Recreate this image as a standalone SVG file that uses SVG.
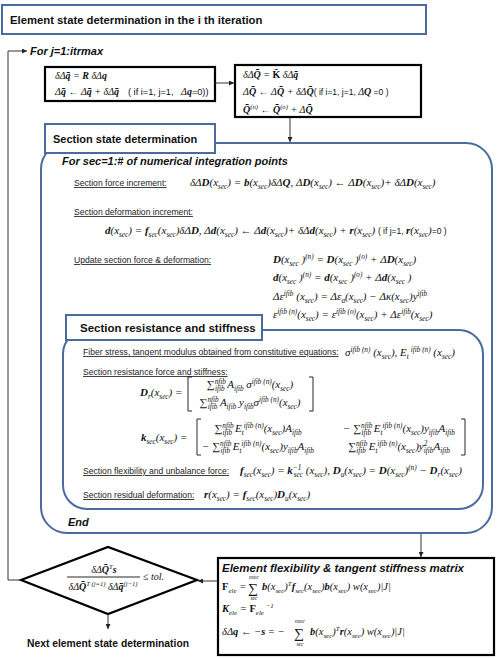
<svg xmlns="http://www.w3.org/2000/svg" width="500" height="659" viewBox="0 0 500 659" xml:space="preserve">
<defs>
<marker id="ah" viewBox="0 0 8 8" refX="8" refY="4" markerWidth="5" markerHeight="5" orient="auto" markerUnits="userSpaceOnUse"><path d="M0,0 L8,4 L0,8 z" fill="#222"/></marker>
<style>
.bl{fill:#fff;stroke:#4a6b9b;stroke-width:2}
.bk{fill:#fff;stroke:#000;stroke-width:2.2}
.cn{fill:none;stroke:#333;stroke-width:1}
.br{fill:none;stroke:#111;stroke-width:0.9}
.h{font-family:"Liberation Sans",Arial,sans-serif;font-weight:bold;font-size:11px;fill:#111}
.hi{font-family:"Liberation Sans",Arial,sans-serif;font-weight:bold;font-style:italic;font-size:11px;fill:#111}
.l{font-family:"Liberation Sans",Arial,sans-serif;font-size:8.6px;text-decoration:underline;fill:#222}
.f{font-family:"Liberation Serif","Times New Roman",serif;font-style:italic;font-size:10px;fill:#111}
.g{font-size:11px}
.e{font-size:10.5px}
.B{font-weight:bold}
.U{font-style:normal}
.r{font-family:"Liberation Sans",Arial,sans-serif;font-style:normal;font-weight:normal;font-size:8.5px}
.s{font-size:0.66em;baseline-shift:-2.5px}
.p{font-size:0.66em;baseline-shift:4.5px}
.sl{font-size:0.66em;baseline-shift:-3.3px}
.sg{font-family:"Liberation Serif","DejaVu Serif",serif;font-style:normal;font-size:14px;fill:#111}
.lm{font-family:"Liberation Serif",serif;font-style:italic;font-size:5.5px;fill:#111}
</style>
</defs>

<g id="title">
<rect class="bl" x="2" y="5" width="424" height="29"/>
<text class="h" style="font-size:11.3px" x="10" y="24">Element state determination in the i th iteration</text>
</g>

<g id="loop-label">
<text class="hi" x="30" y="55">For j=1:itrmax</text>
</g>

<g id="box-displacement">
<rect class="bk" x="45" y="67" width="170" height="34"/>
<text class="f" x="55" y="79">δΔ<tspan class="B">q̄</tspan> = <tspan class="B">R</tspan> δΔ<tspan class="B">q</tspan></text>
<text class="f" x="55" y="95">Δ<tspan class="B">q̄</tspan> ← Δ<tspan class="B">q̄</tspan> + δΔ<tspan class="B">q̄</tspan><tspan class="r" style="font-size:9.2px" x="128">( if i=1, j=1,</tspan><tspan x="181">Δ</tspan><tspan class="B">q</tspan><tspan class="r" style="font-size:9.2px">=0))</tspan></text>
</g>

<g id="box-force">
<rect class="bk" x="235" y="65" width="186" height="52"/>
<text class="f" x="243" y="78">δΔ<tspan class="B">Q̄</tspan> = <tspan class="B U">K̄</tspan> δΔ<tspan class="B">q̄</tspan></text>
<text class="f" x="243" y="95">Δ<tspan class="B">Q̄</tspan> ← Δ<tspan class="B">Q̄</tspan> + δΔ<tspan class="B">Q̄</tspan><tspan class="r">( if i=1, j=1,  </tspan>Δ<tspan class="B">Q</tspan><tspan class="r"> =0 )</tspan></text>
<text class="f" x="243" y="113"><tspan class="B">Q̄</tspan><tspan class="p">(n)</tspan> ← <tspan class="B">Q̄</tspan><tspan class="p">(o)</tspan> + Δ<tspan class="B">Q̄</tspan></text>
</g>

<g id="section-state">
<rect class="bl" x="41" y="143" width="451" height="390" rx="26"/>
<rect class="bl" x="45" y="124" width="170" height="29"/>
<text class="h" x="53" y="143">Section state determination</text>
<text class="hi" x="62" y="165">For sec=1:# of numerical integration points</text>
<text class="l" x="74" y="186">Section force increment:</text>
<text class="f g" x="190" y="186">δΔ<tspan class="B">D</tspan>(x<tspan class="s">sec</tspan>) = <tspan class="B">b</tspan>(x<tspan class="s">sec</tspan>)δΔ<tspan class="B">Q</tspan>,   Δ<tspan class="B">D</tspan>(x<tspan class="s">sec</tspan>) ← Δ<tspan class="B">D</tspan>(x<tspan class="s">sec</tspan>)+ δΔ<tspan class="B">D</tspan>(x<tspan class="s">sec</tspan>)</text>
<text class="l" x="74" y="215">Section deformation increment:</text>
<text class="f g" x="105" y="234"><tspan class="B">d</tspan>(x<tspan class="s">sec</tspan>) = <tspan class="B">f</tspan><tspan class="s">sec</tspan>(x<tspan class="s">sec</tspan>)δΔ<tspan class="B">D</tspan>, Δ<tspan class="B">d</tspan>(x<tspan class="s">sec</tspan>) ← Δ<tspan class="B">d</tspan>(x<tspan class="s">sec</tspan>)+ δΔ<tspan class="B">d</tspan>(x<tspan class="s">sec</tspan>) + <tspan class="B">r</tspan>(x<tspan class="s">sec</tspan>) <tspan class="r">( if j=1, </tspan><tspan class="B">r</tspan>(x<tspan class="s">sec</tspan>)<tspan class="r">=0 )</tspan></text>
<text class="l" x="74" y="263">Update section force &amp; deformation:</text>
<text class="f g" x="273" y="263"><tspan class="B">D</tspan>(x<tspan class="s">sec</tspan> )<tspan class="p">(n)</tspan> = <tspan class="B">D</tspan>(x<tspan class="s">sec</tspan> )<tspan class="p">(o)</tspan> + Δ<tspan class="B">D</tspan>(x<tspan class="s">sec</tspan>)</text>
<text class="f g" x="273" y="281"><tspan class="B">d</tspan>(x<tspan class="s">sec</tspan> )<tspan class="p">(n)</tspan> = <tspan class="B">d</tspan>(x<tspan class="s">sec</tspan> )<tspan class="p">(o)</tspan> + Δ<tspan class="B">d</tspan>(x<tspan class="s">sec</tspan> )</text>
<text class="f g" x="273" y="300">Δε<tspan class="p">ifib</tspan> (x<tspan class="s">sec</tspan>) = Δε<tspan class="s">a</tspan>(x<tspan class="s">sec</tspan>) − Δκ(x<tspan class="s">sec</tspan>)y<tspan class="p">ifib</tspan></text>
<text class="f g" x="273" y="318">ε<tspan class="p">ifib (n)</tspan>(x<tspan class="s">sec</tspan>) = ε<tspan class="p">ifib (o)</tspan>(x<tspan class="s">sec</tspan>) + Δε<tspan class="p">ifib</tspan>(x<tspan class="s">sec</tspan>)</text>
<text class="hi" x="68" y="526">End</text>
</g>

<g id="section-resistance">
<rect class="bl" x="63" y="330" width="420" height="179" rx="24"/>
<rect class="bl" x="66" y="315" width="196" height="25"/>
<text class="h" style="font-size:11.5px" x="80" y="332">Section resistance and stiffness</text>
<text class="l" x="83" y="355">Fiber stress, tangent modulus obtained from constitutive equations:</text>
<text class="f g" x="345" y="356">σ<tspan class="p">ifib (n)</tspan> (x<tspan class="s">sec</tspan>),    E<tspan class="s">t</tspan><tspan class="p"> ifib (n)</tspan> (x<tspan class="s">sec</tspan>)</text>
<text class="l" x="83" y="375">Section resistance force and stiffness:</text>
<text class="f g" x="140" y="396"><tspan class="B">D</tspan><tspan class="s">r</tspan>(x<tspan class="s">sec</tspan>) =</text>
<path class="br" d="M192,377 h-4 v34 h4 M309,377 h4 v34 h-4"/>
<text class="f g" x="250" y="388" text-anchor="middle">∑<tspan class="p">nfib</tspan><tspan class="sl" dx="-11">ifib</tspan>  A<tspan class="s">ifib</tspan> σ<tspan class="p">ifib (n)</tspan>(x<tspan class="s">sec</tspan>)</text>
<text class="f g" x="250" y="406" text-anchor="middle">∑<tspan class="p">nfib</tspan><tspan class="sl" dx="-11">ifib</tspan>  A<tspan class="s">ifib</tspan> y<tspan class="s">ifib</tspan>σ<tspan class="p">ifib (n)</tspan>(x<tspan class="s">sec</tspan>)</text>
<text class="f g" x="141" y="441"><tspan class="B">k</tspan><tspan class="s">sec</tspan>(x<tspan class="s">sec</tspan>) =</text>
<path class="br" d="M201,419 h-4 v36 h4 M461,419 h4 v36 h-4"/>
<text class="f g" x="258" y="432" text-anchor="middle">∑<tspan class="p">nfib</tspan><tspan class="sl" dx="-11">ifib</tspan>  E<tspan class="s">t</tspan><tspan class="p">ifib (n)</tspan>(x<tspan class="s">sec</tspan>)A<tspan class="s">ifib</tspan></text>
<text class="f g" x="399" y="432" text-anchor="middle">− ∑<tspan class="p">nfib</tspan><tspan class="sl" dx="-11">ifib</tspan>  E<tspan class="s">t</tspan><tspan class="p">ifib (n)</tspan>(x<tspan class="s">sec</tspan>)y<tspan class="s">ifib</tspan>A<tspan class="s">ifib</tspan></text>
<text class="f g" x="258" y="450" text-anchor="middle">− ∑<tspan class="p">nfib</tspan><tspan class="sl" dx="-11">ifib</tspan>  E<tspan class="s">t</tspan><tspan class="p">ifib (n)</tspan>(x<tspan class="s">sec</tspan>)y<tspan class="s">ifib</tspan>A<tspan class="s">ifib</tspan></text>
<text class="f g" x="399" y="450" text-anchor="middle">∑<tspan class="p">nfib</tspan><tspan class="sl" dx="-11">ifib</tspan>  E<tspan class="s">t</tspan><tspan class="p">ifib (n)</tspan>(x<tspan class="s">sec</tspan>)y<tspan class="p">2</tspan><tspan class="sl" dx="-3.6">ifib</tspan>A<tspan class="s">ifib</tspan></text>
<text class="l" x="83" y="474">Section flexibility and unbalance force:</text>
<text class="f g" x="240" y="474"><tspan class="B">f</tspan><tspan class="s">sec</tspan>(x<tspan class="s">sec</tspan>) = <tspan class="B">k</tspan><tspan class="p">−1</tspan><tspan class="sl" dx="-7.6">sec</tspan> (x<tspan class="s">sec</tspan>),     <tspan class="B">D</tspan><tspan class="s">u</tspan>(x<tspan class="s">sec</tspan>) = <tspan class="B">D</tspan>(x<tspan class="s">sec</tspan>)<tspan class="p">(n)</tspan> − <tspan class="B">D</tspan><tspan class="s">r</tspan>(x<tspan class="s">sec</tspan>)</text>
<text class="l" x="83" y="498">Section residual deformation:</text>
<text class="f g" x="204" y="498"><tspan class="B">r</tspan>(x<tspan class="s">sec</tspan>) = <tspan class="B">f</tspan><tspan class="s">sec</tspan>(x<tspan class="s">sec</tspan>)<tspan class="B">D</tspan><tspan class="s">u</tspan>(x<tspan class="s">sec</tspan>)</text>
</g>

<g id="element-matrix">
<rect class="bk" x="218" y="558" width="276" height="97"/>
<text class="hi" style="font-size:11.5px" x="222" y="572">Element flexibility  &amp; tangent stiffness matrix</text>
<text class="f e" x="222" y="590"><tspan class="B U">F</tspan><tspan class="s">ele</tspan> = </text>
<text class="sg" x="248" y="593">∑</text>
<text class="lm" x="254" y="579" text-anchor="middle">nsec</text>
<text class="lm" x="254" y="600" text-anchor="middle">sec</text>
<text class="f e" x="262" y="590"><tspan class="B">b</tspan>(x<tspan class="s">sec</tspan>)<tspan class="p">T</tspan><tspan class="B">f</tspan><tspan class="s">sec</tspan>(x<tspan class="s">sec</tspan>)<tspan class="B">b</tspan>(x<tspan class="s">sec</tspan>) w(x<tspan class="s">sec</tspan>)|J|</text>
<text class="f e" x="222" y="612"><tspan class="B">K</tspan><tspan class="s">ele</tspan> = <tspan class="B U">F</tspan><tspan class="s">ele</tspan><tspan class="p"> −1</tspan></text>
<text class="f e" x="222" y="635">δΔ<tspan class="B">q</tspan> ← −<tspan class="B">s</tspan> = −</text>
<text class="sg" x="294" y="638">∑</text>
<text class="lm" x="300" y="623" text-anchor="middle">nsec</text>
<text class="lm" x="300" y="646" text-anchor="middle">sec</text>
<text class="f e" x="310" y="635"><tspan class="B">b</tspan>(x<tspan class="s">sec</tspan>)<tspan class="p">T</tspan><tspan class="B">r</tspan>(x<tspan class="s">sec</tspan>) w(x<tspan class="s">sec</tspan>)|J|</text>
</g>

<g id="convergence-check">
<polygon class="bk" points="21,580 108,547 197,580 108,614"/>
<text class="f" x="104" y="573" text-anchor="middle">δΔ<tspan class="B">Q̄</tspan><tspan class="p">T</tspan><tspan class="B">s</tspan></text>
<line class="br" x1="67" y1="577" x2="140" y2="577"/>
<text class="f" x="103" y="590" text-anchor="middle">δΔ<tspan class="B">Q̄</tspan><tspan class="p">T (j=1)</tspan> δΔ<tspan class="B">q̄</tspan><tspan class="p">(j−1)</tspan></text>
<text class="f" x="143" y="580">≤ tol.</text>
</g>

<g id="next-element">
<text class="h" style="font-size:10.3px" x="108" y="647" text-anchor="middle">Next element state determination</text>
</g>

<g id="connectors">
<path class="cn" d="M21,580 H8 V51 H27" marker-end="url(#ah)"/>
<path class="cn" d="M215,83 H234" marker-end="url(#ah)"/>
<path class="cn" d="M290,118 V142" marker-end="url(#ah)"/>
<path class="cn" d="M421,534 V557" marker-end="url(#ah)"/>
<path class="cn" d="M218,581 H198" marker-end="url(#ah)"/>
<path class="cn" d="M108,614 V629" marker-end="url(#ah)"/>
</g>
</svg>
